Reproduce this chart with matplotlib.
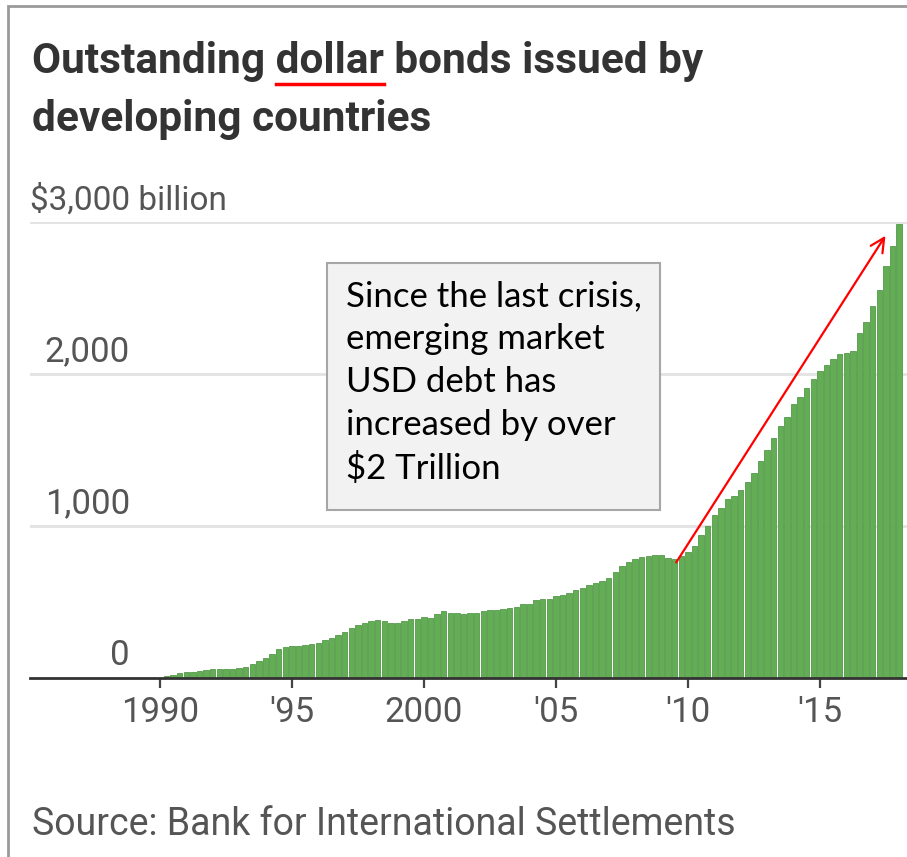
import matplotlib
matplotlib.use("Agg")
import matplotlib.pyplot as plt
import numpy as np
from matplotlib.patches import Rectangle
from matplotlib.lines import Line2D

# quarterly outstanding dollar bonds, $ billion (1990Q2 .. 2018Q1)
first_quarter = 1990.25
outstanding = [
    10, 20, 35, 40, 42, 45, 55, 58, 60, 60, 62, 65,
    75, 90, 110, 130, 160, 190, 205, 210, 210, 215, 225, 230,
    250, 265, 280, 300, 330, 350, 360, 375, 380, 375, 365, 360,
    375, 385, 385, 400, 395, 420, 440, 430, 425, 420, 425, 430,
    440, 445, 450, 455, 460, 470, 490, 490, 510, 520, 520, 540,
    545, 560, 580, 590, 610, 625, 640, 660, 700, 740, 760, 780,
    795, 800, 810, 810, 790, 785, 800, 830, 870, 940, 1000, 1070,
    1120, 1180, 1200, 1240, 1290, 1350, 1430, 1500, 1580, 1660, 1720, 1800,
    1850, 1910, 1970, 2020, 2060, 2100, 2130, 2140, 2150, 2270, 2340, 2450,
    2550, 2710, 2840, 2990,
]
tick_years = [1990, 1995, 2000, 2005, 2010, 2015]
tick_labels = ["1990", "'95", "2000", "'05", "'10", "'15"]
grid_values = [1000, 2000, 3000]
grid_labels = ["1,000", "2,000", "$3,000 billion"]

title_before = "Outstanding "
title_word = "dollar"
title_after = " bonds issued by"
title_line2 = "developing countries"
note = "Since the last crisis,\nemerging market\nUSD debt has\nincreased by over\n$2 Trillion"
source = "Source: Bank for International Settlements"

sans = ["Roboto", "DejaVu Sans"]
W, H = 907, 857

quarters = first_quarter + 0.25 * np.arange(len(outstanding))

fig = plt.figure(figsize=(W / 100, H / 100), dpi=100)
ax = fig.add_axes([30 / W, (H - 678) / H, 877 / W, 456 / H])

ax.bar(quarters, outstanding, width=0.2, color="#63ad55",
       edgecolor="#55994a", linewidth=0.6, zorder=2)

for v in grid_values:
    ax.axhline(v, color="#e2e2e2", lw=2, zorder=0)

ax.set_xlim(1985.08, 2018.3)
ax.set_ylim(0, 3000)
for s in ["left", "right", "top"]:
    ax.spines[s].set_visible(False)
ax.spines["bottom"].set_color("#333333")
ax.spines["bottom"].set_linewidth(2)
ax.spines["bottom"].set_zorder(3)

ax.set_yticks([])
ax.set_xticks(tick_years)
ax.set_xticklabels(tick_labels, family=sans, fontsize=25, color="#555555")
ax.tick_params(axis="x", length=7, width=1.6, color="#444444", pad=6)

# y labels sit on top of the grid lines
ytr = ax.get_yaxis_transform()
for v, lab in zip([0] + grid_values[:2], ["0"] + grid_labels[:2]):
    ax.annotate(lab, (0.114, v), xycoords=ytr, xytext=(0, 4), textcoords="offset points",
                ha="right", va="bottom", family=sans, fontsize=25, color="#555555")
ax.annotate(grid_labels[2], (0.0, grid_values[2]), xycoords=ytr, xytext=(0, 4),
            textcoords="offset points", ha="left", va="bottom",
            family=sans, fontsize=24, color="#555555")

# annotation box and arrow
fig.text(346 / W, 1 - 280 / H, note, ha="left", va="top", family=["Lato", "DejaVu Sans"],
         fontsize=25, color="black", linespacing=1.42, zorder=3)
fig.patches.append(Rectangle((327 / W, 1 - 510 / H), 333 / W, 247 / H,
                             transform=fig.transFigure, facecolor="#f2f2f2",
                             edgecolor="#a6a6a6", lw=1.5, zorder=1))
ax.annotate("", xy=(2017.54, 2925), xytext=(2009.5, 745),
            arrowprops=dict(arrowstyle="->", color="red", lw=1.6, mutation_scale=25))

# title with underlined word
tx, ty = 32 / W, 1 - 73 / H
tkw = dict(family=sans, fontsize=30.5, fontweight="bold", color="#333333", va="baseline")
fig.text(tx, ty, title_before + title_word + title_after, **tkw)
fig.text(tx, 1 - 131 / H, title_line2, **tkw)
fig.canvas.draw()
r = fig.canvas.get_renderer()
w_all = fig.text(0, 0, title_before + title_word, alpha=0, **tkw).get_window_extent(r).width
w_word = fig.text(0, 0, title_word, alpha=0, **tkw).get_window_extent(r).width
x0 = tx * W
fig.lines.append(Line2D([(x0 + w_all - w_word) / W, (x0 + w_all) / W], [1 - 84 / H] * 2,
                        transform=fig.transFigure, color="red", lw=2.5))

fig.text(32 / W, 1 - 835 / H, source, family=sans, fontsize=27, color="#555555",
         va="baseline")

# outer frame
fig.patches.append(Rectangle((8 / W, -0.1), 1.2, 1 - 6 / H + 0.1, transform=fig.transFigure,
                             fill=False, edgecolor="#9a9a9a", lw=2))

fig.savefig("out.png", dpi=100)
